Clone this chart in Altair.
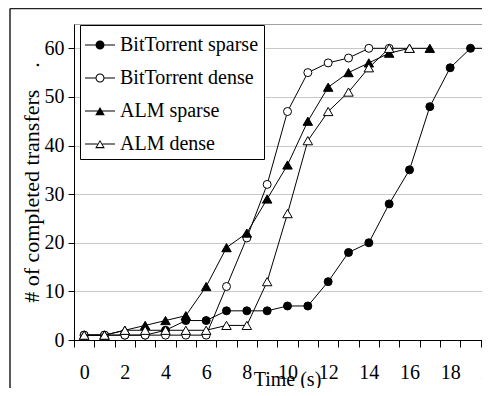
import altair as alt
import pandas as pd

# ---- data ----
series = ["BitTorrent sparse", "BitTorrent dense", "ALM sparse", "ALM dense"]
x_categories = list(range(21))
y_ticks = [0, 10, 20, 30, 40, 50, 60]

t_bt_sparse = list(range(21))
bt_sparse = [1, 1, 1, 1, 2, 4, 4, 6, 6, 6, 7, 7, 12, 18, 20, 28, 35, 48, 56, 60, 60]
t_bt_dense = list(range(16))
bt_dense = [1, 1, 1, 1, 1, 1, 1, 11, 21, 32, 47, 55, 57, 58, 60, 60]
t_alm_sparse = list(range(18))
alm_sparse = [1, 1, 2, 3, 4, 5, 11, 19, 22, 29, 36, 45, 52, 55, 57, 59, 60, 60]
t_alm_dense = list(range(17))
alm_dense = [1, 1, 2, 2, 2, 2, 2, 3, 3, 12, 26, 41, 47, 51, 56, 60, 60]

FONT = "Liberation Serif"

xaxis = alt.Axis(
    tickBand="extent", labelAngle=0, labelFontSize=20, labelColor="black",
    labelExpr="datum.value % 2 == 0 ? datum.label : ''",
    labelPadding=15, tickSize=7, tickColor="black", domainColor="black",
    grid=False, title="Time (s)", titleFontSize=20, titleFontWeight="normal",
    titleColor="black", titleX=213, titleY=45, titleBaseline="alphabetic",
)
yaxis = alt.Axis(
    values=y_ticks, labelFontSize=20, labelColor="black", labelPadding=4,
    tickSize=6, tickColor="black", domainColor="black", grid=True,
    gridColor="#c8c8c8", title="# of completed transfers\u00a0\u00a0\u00a0\u00a0.",
    titleFontSize=22, titleFontWeight="normal", titleColor="black",
    titleX=-36, titleY=158, titleBaseline="alphabetic", titleAngle=270,
)

X = alt.X("t:O", scale=alt.Scale(type="band", domain=x_categories, paddingInner=0,
                                 paddingOuter=0, range=[0, 427]),
          bandPosition=0.5, axis=xaxis)
Y = alt.Y("v:Q", scale=alt.Scale(domain=[0, 65], nice=False), axis=yaxis)


def layers(ts, vs, shape, fill, size):
    df = pd.DataFrame({"t": ts, "v": vs})
    base = alt.Chart(df).encode(x=X, y=Y)
    line = base.mark_line(color="black", strokeWidth=1)
    pts = base.mark_point(shape=shape, filled=True, fill=fill, stroke="black",
                          strokeWidth=1, size=size, opacity=1)
    return [line, pts]


# legend glyphs (line + marker), drawn as filled outlines in symbol units (1 = 15 px)
full_line = "M-1,-0.034H1V0.034H-1Z"
disk = "M0.3,0A0.3,0.3,0,1,1,-0.3,0A0.3,0.3,0,1,1,0.3,0Z"
ring = disk + "M0.233,0A0.233,0.233,0,1,0,-0.233,0A0.233,0.233,0,1,0,0.233,0Z"
split_line_c = "M-1,-0.034H-0.29V0.034H-1ZM0.29,-0.034H1V0.034H0.29Z"
tri_outer = "M0,-0.275L0.32,0.275L-0.32,0.275Z"
tri_inner = "M0,-0.142L-0.2035,0.208L0.2035,0.208Z"
split_line_t = "M-1,-0.034H-0.16V0.034H-1ZM0.16,-0.034H1V0.034H0.16Z"

glyph_bt_sparse = full_line + disk
glyph_bt_dense = split_line_c + ring
glyph_alm_sparse = full_line + tri_outer
glyph_alm_dense = split_line_t + tri_outer + tri_inner

legend_df = pd.DataFrame({"series": series})
legend_layer = alt.Chart(legend_df).transform_filter("false").mark_point(
    filled=True, fill="black", opacity=1
).encode(
    shape=alt.Shape(
        "series:N",
        scale=alt.Scale(domain=series,
                        range=[glyph_bt_sparse, glyph_bt_dense, glyph_alm_sparse, glyph_alm_dense]),
        legend=alt.Legend(title=None, symbolFillColor="black", symbolOpacity=1,
                          symbolStrokeWidth=0),
    ),
)

frame_df = pd.DataFrame({"k": [0]})
frame_left = alt.Chart(frame_df).mark_rule(color="#222222", strokeWidth=1.5).encode(
    x=alt.value(-64), y=alt.value(-15.5), y2=alt.value(420))
frame_top = alt.Chart(frame_df).mark_rule(color="#222222", strokeWidth=1.5).encode(
    x=alt.value(-64), x2=alt.value(440), y=alt.value(-15.5))

all_layers = []
all_layers += layers(t_bt_sparse, bt_sparse, "circle", "black", 64)
all_layers += layers(t_bt_dense, bt_dense, "circle", "white", 64)
all_layers += layers(t_alm_sparse, alm_sparse, "triangle-up", "black", 90)
all_layers += layers(t_alm_dense, alm_dense, "triangle-up", "white", 90)

chart = alt.layer(frame_left, frame_top, *all_layers, legend_layer).properties(
    width=408, height=316,
    autosize=alt.AutoSizeParams(type="none"),
    padding={"left": 66, "top": 16, "right": 0, "bottom": 48},
).configure(font=FONT).configure_view(stroke="#a0a0a0").configure_legend(
    orient="none", legendX=6, legendY=1, direction="vertical",
    strokeColor="black", fillColor="white", padding=5, cornerRadius=0,
    labelFontSize=20, labelFont=FONT, labelColor="black", labelLimit=0,
    symbolSize=900, rowPadding=8, labelOffset=5,
)

chart.save("out.html", embed_options={"renderer": "svg", "actions": False})
